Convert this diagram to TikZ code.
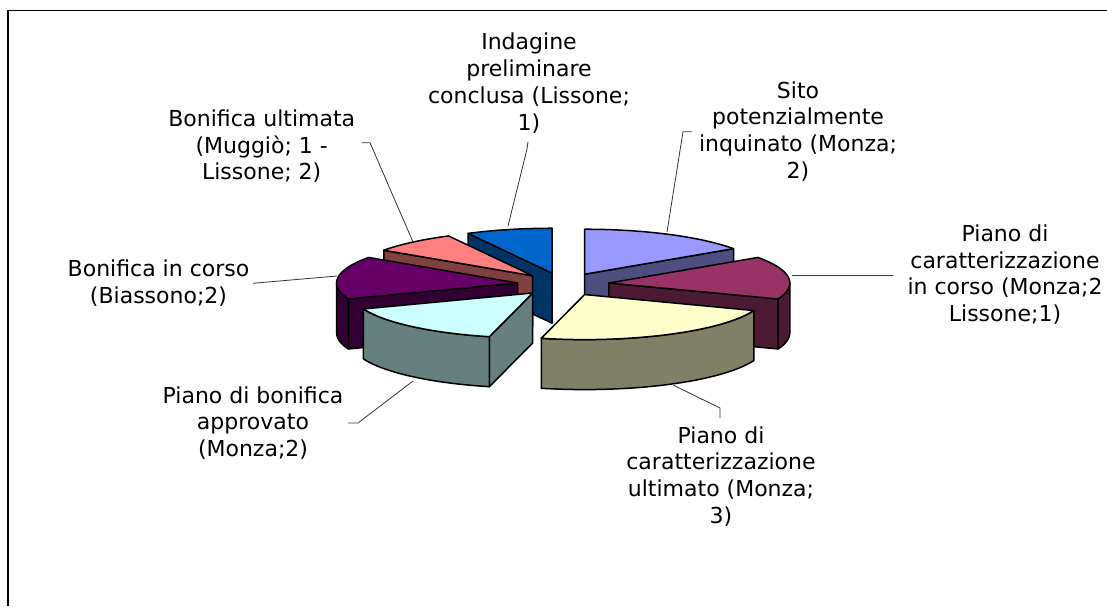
\documentclass[tikz,border=0pt]{standalone}
\usepackage{fontspec}
\setmainfont{DejaVu Sans}
\usetikzlibrary{calc}
\definecolor{blueTop}{HTML}{0066CC}\definecolor{blueSide}{HTML}{003366}
\definecolor{lavTop}{HTML}{9999FF}\definecolor{lavSide}{HTML}{4D4D80}
\definecolor{marTop}{HTML}{993366}\definecolor{marSide}{HTML}{4D1A33}
\definecolor{yelTop}{HTML}{FFFFCC}\definecolor{yelSide}{HTML}{808066}
\definecolor{cyaTop}{HTML}{CCFFFF}\definecolor{cyaSide}{HTML}{668080}
\definecolor{purTop}{HTML}{660066}\definecolor{purSide}{HTML}{330033}
\definecolor{pinTop}{HTML}{FF8080}\definecolor{pinSide}{HTML}{804040}
\tikzset{
  face/.style={draw=black, line width=1.5pt, line join=round},
  lbl/.style={font=\fontsize{22}{26.7}\selectfont, align=center, anchor=north, inner sep=0pt, execute at begin node=\strut},
  leader/.style={draw=black!80, line width=0.8pt},
  frameline/.style={draw=black, line width=1.5pt}
}
% radial face, rim, top
\newcommand{\radface}[3]{\filldraw[face,fill=#3] (#1) -- ++(#2:181 and 45) -- ++(0,-50) -- ($(#1)+(0,-50)$) -- cycle;}
\newcommand{\rimface}[4]{\filldraw[face,fill=#4] (#1) ++(#2:181 and 45) arc[start angle=#2, end angle=#3, x radius=181, y radius=45] -- ++(0,-50) arc[start angle=#3, end angle=#2, x radius=181, y radius=45] -- cycle;}
\newcommand{\topface}[4]{\filldraw[face,fill=#4] (#1) -- ++(#2:181 and 45) arc[start angle=#2, end angle=#3, x radius=181, y radius=45] -- cycle;}
\begin{document}
\begin{tikzpicture}[x=1pt,y=1pt]
\useasboundingbox (0,0) rectangle (1107,606);
\draw[frameline] (8,0) -- (8,595.5) -- (1107,595.5);
\coordinate (C) at (563.2,321.6);
% apexes (exploded)
\coordinate (Ablu) at ($(C)+(103.85:46 and 11.5)$);
\coordinate (Alav) at ($(C)+(62.31:46 and 11.5)$);
\coordinate (Apin) at ($(C)+(131.54:46 and 11.5)$);
\coordinate (Amar) at ($(C)+(6.92:46 and 11.5)$);
\coordinate (Apur) at ($(C)+(173.08:46 and 11.5)$);
\coordinate (Ayel) at ($(C)+(-62.31:46 and 11.5)$);
\coordinate (Acya) at ($(C)+(-131.54:46 and 11.5)$);
% blue: Indagine preliminare
\radface{Ablu}{117.69}{blueSide}
\topface{Ablu}{90}{117.69}{blueTop}
% lavender: Sito potenzialmente inquinato
\radface{Alav}{34.615}{lavSide}
\topface{Alav}{34.615}{90}{lavTop}
% pink: Bonifica ultimata
\radface{Apin}{145.38}{pinSide}
\topface{Apin}{117.69}{145.38}{pinTop}
% maroon: Piano di caratterizzazione in corso
\radface{Amar}{-20.77}{marSide}
\rimface{Amar}{-20.77}{0}{marSide}
\topface{Amar}{-20.77}{34.615}{marTop}
% purple: Bonifica in corso
\radface{Apur}{200.77}{purSide}
\rimface{Apur}{180}{200.77}{purSide}
\topface{Apur}{145.38}{200.77}{purTop}
% yellow: Piano di caratterizzazione ultimato
\rimface{Ayel}{-103.85}{-20.77}{yelSide}
\topface{Ayel}{-103.85}{-20.77}{yelTop}
% cyan: Piano di bonifica approvato
\radface{Acya}{-103.85}{cyaSide}
\rimface{Acya}{-159.23}{-103.85}{cyaSide}
\topface{Acya}{-159.23}{-103.85}{cyaTop}
% labels
\node[lbl] (lInd) at (529,573.0) {Indagine\\preliminare\\conclusa (Lissone;\\1)};
\node[lbl] (lBonUlt) at (261.7,496.4) {Bonifica ultimata\\(Muggiò; 1 -\\Lissone; 2)};
\node[lbl] (lSito) at (798,524.7) {Sito\\potenzialmente\\inquinato (Monza;\\2)};
\node[lbl] (lCarCorso) at (1005,381.4) {Piano di\\caratterizzazione\\in corso (Monza;2\\Lissone;1)};
\node[lbl] (lCarUlt) at (721,179.7) {Piano di\\caratterizzazione\\ultimato (Monza;\\3)};
\node[lbl] (lBonCorso) at (158.5,346.4) {Bonifica in corso\\(Biassono;2)};
\node[lbl] (lBonAppr) at (253,219.7) {Piano di bonifica\\approvato\\(Monza;2)};
% leader points
\coordinate (i1) at (528,464); \coordinate (i2) at (527,457); \coordinate (i3) at (508,380);
\coordinate (u1) at (361.7,463.3); \coordinate (u2) at (370,463.3); \coordinate (u3) at (413,364);
\coordinate (s1) at (692,474.3); \coordinate (s2) at (683,474.3); \coordinate (s3) at (667,374);
\coordinate (c1) at (792,330.3); \coordinate (c2) at (893,330.3);
\coordinate (t1) at (720,188); \coordinate (t2) at (720,198); \coordinate (t3) at (673,221);
\coordinate (b1) at (253,322.7); \coordinate (b2) at (337,330);
\coordinate (a1) at (348,183); \coordinate (a2) at (358,183); \coordinate (a3) at (413,225);
\draw[leader] (i1) -- (i2) -- (i3);
\draw[leader] (u1) -- (u2) -- (u3);
\draw[leader] (s1) -- (s2) -- (s3);
\draw[leader] (c1) -- (c2);
\draw[leader] (t1) -- (t2) -- (t3);
\draw[leader] (b1) -- (b2);
\draw[leader] (a1) -- (a2) -- (a3);
\end{tikzpicture}
\end{document}
